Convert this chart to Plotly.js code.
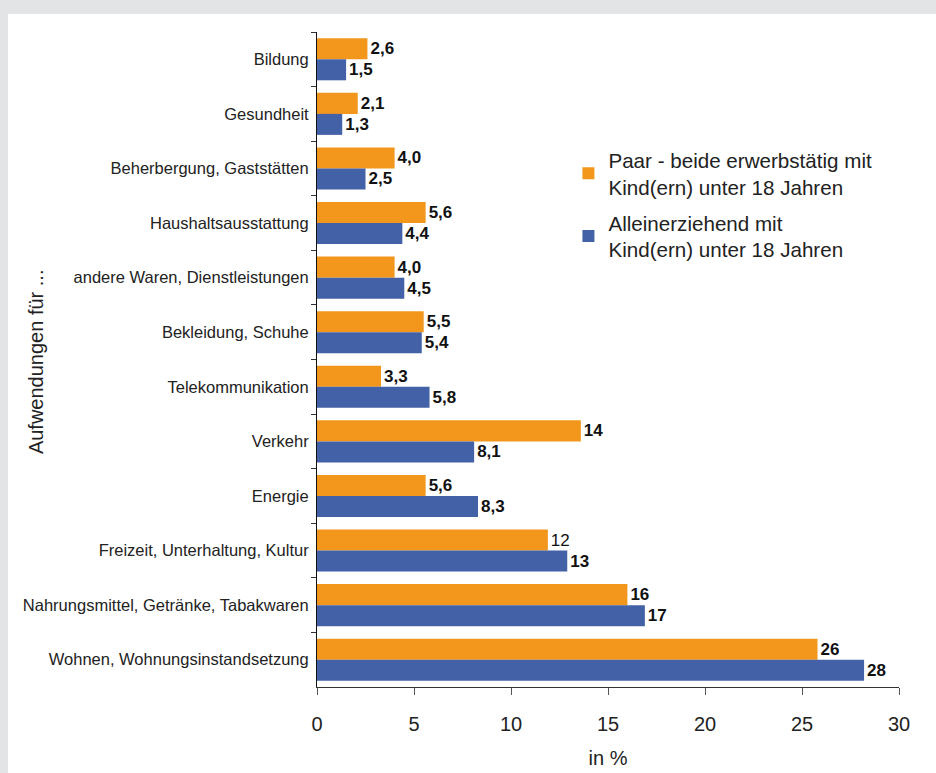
<!DOCTYPE html>
<html>
<head>
<meta charset="utf-8">
<script src="https://cdn.plot.ly/plotly-3.0.1.min.js"></script>
<style>
  html, body { margin: 0; padding: 0; background: #e3e4e6; width: 936px; height: 773px; overflow: hidden; }
  #chart { position: absolute; left: 8px; top: 14px; width: 928px; height: 759px; background: #ffffff; }
</style>
</head>
<body>
<div id="chart"></div>
<script>
const categories = [
  "Bildung",
  "Gesundheit",
  "Beherbergung, Gaststätten",
  "Haushaltsausstattung",
  "andere Waren, Dienstleistungen",
  "Bekleidung, Schuhe",
  "Telekommunikation",
  "Verkehr",
  "Energie",
  "Freizeit, Unterhaltung, Kultur",
  "Nahrungsmittel, Getränke, Tabakwaren",
  "Wohnen, Wohnungsinstandsetzung"
];
const paarValues = [2.6, 2.1, 4.0, 5.6, 4.0, 5.5, 3.3, 13.6, 5.6, 11.9, 16.0, 25.8];
const paarLabels = ["2,6", "2,1", "4,0", "5,6", "4,0", "5,5", "3,3", "14", "5,6", "12", "16", "26"];
const paarPlainLabels = ["Freizeit, Unterhaltung, Kultur"];
const alleinValues = [1.5, 1.3, 2.5, 4.4, 4.5, 5.4, 5.8, 8.1, 8.3, 12.9, 16.9, 28.2];
const alleinLabels = ["1,5", "1,3", "2,5", "4,4", "4,5", "5,4", "5,8", "8,1", "8,3", "13", "17", "28"];
const seriesNames = ["Paar - beide erwerbstätig mit<br>Kind(ern) unter 18 Jahren", "Alleinerziehend mit<br>Kind(ern) unter 18 Jahren"];
const xTicks = [0, 5, 10, 15, 20, 25, 30];

const fontFam = "Arial, Liberation Sans, sans-serif";

const paarText = paarLabels.map((t, i) => paarPlainLabels.includes(categories[i]) ? t : "<b>" + t + "</b>");
const alleinText = alleinLabels.map(t => "<b>" + t + "</b>");

const traces = [
  {
    type: "bar", orientation: "h", name: seriesNames[0], legendgroup: "paar",
    y: categories, x: paarValues, text: paarText,
    textposition: "outside", cliponaxis: false,
    textfont: { family: fontFam, size: 17, color: "#111" },
    marker: { color: "#f2971b" }, hoverinfo: "x+y"
  },
  {
    type: "bar", orientation: "h", name: seriesNames[1], legendgroup: "allein",
    y: categories, x: alleinValues, text: alleinText,
    textposition: "outside", cliponaxis: false,
    textfont: { family: fontFam, size: 17, color: "#111" },
    marker: { color: "#4361a6" }, hoverinfo: "x+y"
  }
];

const layout = {
  width: 928, height: 759,
  margin: { l: 309, r: 37, t: 18, b: 86 },
  paper_bgcolor: "#ffffff", plot_bgcolor: "#ffffff",
  font: { family: fontFam, color: "#222" },
  barmode: "group", bargap: 0.23, bargroupgap: 0,
  showlegend: true,
  legend: {
    x: 0.432, y: 0.835, xanchor: "left", yanchor: "top",
    font: { family: fontFam, size: 20.6, color: "#222" },
    bgcolor: "rgba(0,0,0,0)", traceorder: "grouped",
    itemwidth: 30, tracegroupgap: 6
  },
  xaxis: {
    range: [0, 30], tickvals: xTicks, ticktext: xTicks.map(String),
    showgrid: false, zeroline: false,
    showline: true, linecolor: "#333", linewidth: 1,
    ticks: "outside", ticklen: 7, tickcolor: "#555", tickwidth: 1,
    tickfont: { family: fontFam, size: 20, color: "#222" },
    ticklabelstandoff: 12,
    title: { text: "in %", font: { family: fontFam, size: 20, color: "#222" }, standoff: 16 },
    fixedrange: true
  },
  yaxis: {
    type: "category", autorange: "reversed",
    showgrid: false, zeroline: false,
    showline: true, linecolor: "#111", linewidth: 1,
    ticks: "outside", ticklen: 5, tickcolor: "#333", tickson: "boundaries",
    tickfont: { family: fontFam, size: 16.5, color: "#222" },
    ticklabelstandoff: 4,
    fixedrange: true
  },
  annotations: [
    {
      text: "Aufwendungen für ...", textangle: -90,
      xref: "paper", yref: "paper", x: (28 - 309) / 582, y: 0.496,
      xanchor: "center", yanchor: "middle", showarrow: false,
      font: { family: fontFam, size: 20, color: "#222" }
    }
  ]
};

Plotly.newPlot("chart", traces, layout, { displayModeBar: false, staticPlot: true });
</script>
</body>
</html>
